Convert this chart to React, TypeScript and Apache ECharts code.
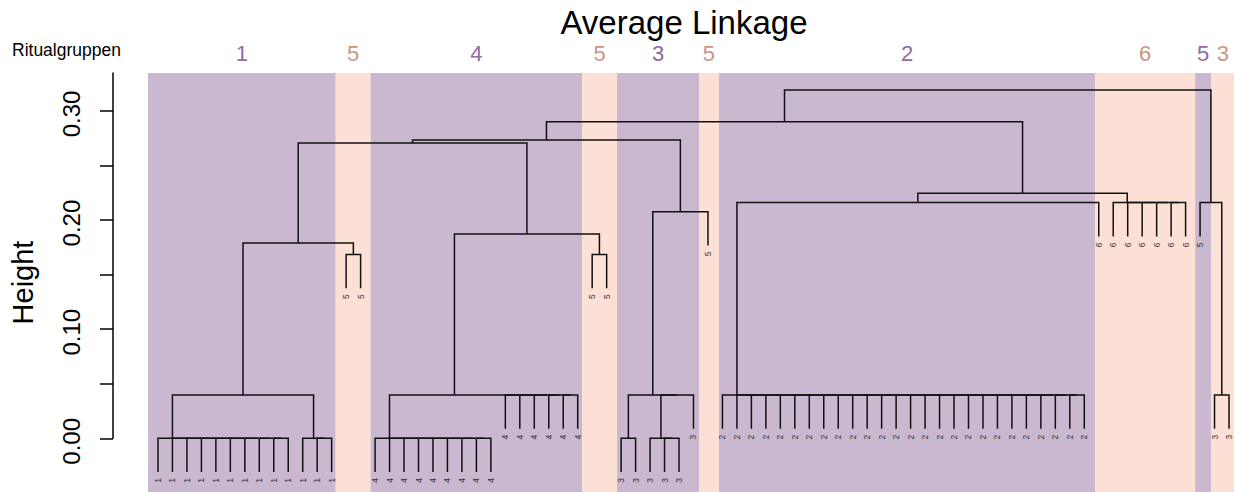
import React, { useEffect, useRef } from "react";
import * as echarts from "echarts";

const FONT = "'Liberation Sans', Arial, Helvetica, sans-serif";

// Leaf labels (Ritualgruppe of each leaf, left to right)
const leafLabels = [
  "1","1","1","1","1","1","1","1","1","1","1","1","1",
  "5","5",
  "4","4","4","4","4","4","4","4","4","4","4","4","4","4","4",
  "5","5",
  "3","3","3","3","3","3",
  "5",
  "2","2","2","2","2","2","2","2","2","2","2","2","2","2","2","2","2","2","2","2","2","2","2","2","2","2",
  "6","6","6","6","6","6","6",
  "5",
  "3","3",
];

// hclust-style merges: negative = leaf (1-based), positive = earlier merge (1-based)
const mergeLeft = [
  -9, -8, -7, -6, -5, -4, -3, -2, -1,
  -12, -11, 9, -14, 12,
  -23, -22, -21, -20, -19, -18, -17, -16,
  -29, -28, -27, -26, -25, 22, -31, 28, 14,
  -33, -36, -35, 34, 32, 36, 31,
  -64, -63, -62, -61, -60, -59, -58, -57, -56, -55, -54, -53, -52, -51, -50, -49, -48, -47, -46, -45, -44, -43, -42, -41, -40,
  63, -71, -70, -69, -68, -67, 64, 38, -74, -73, 71,
];
const mergeRight = [
  -10, 1, 2, 3, 4, 5, 6, 7, 8,
  -13, 10, 11, -15, 13,
  -24, 15, 16, 17, 18, 19, 20, 21,
  -30, 23, 24, 25, 26, 27, -32, 29, 30,
  -34, -37, 33, -38, 35, -39, 37,
  -65, 39, 40, 41, 42, 43, 44, 45, 46, 47, 48, 49, 50, 51, 52, 53, 54, 55, 56, 57, 58, 59, 60, 61, 62,
  -66, -72, 65, 66, 67, 68, 69, 70, -75, 72, 73,
];
const mergeHeight = [
  0, 0, 0, 0, 0, 0, 0, 0, 0,
  0, 0, 0.0397, 0.1685, 0.179,
  0, 0, 0, 0, 0, 0, 0, 0,
  0.0397, 0.0397, 0.0397, 0.0397, 0.0397, 0.0397, 0.1685, 0.1873, 0.2707,
  0, 0, 0, 0.0397, 0.0397, 0.2077, 0.2734,
  0.0397, 0.0397, 0.0397, 0.0397, 0.0397, 0.0397, 0.0397, 0.0397, 0.0397, 0.0397, 0.0397, 0.0397, 0.0397,
  0.0397, 0.0397, 0.0397, 0.0397, 0.0397, 0.0397, 0.0397, 0.0397, 0.0397, 0.0397, 0.0397, 0.0397,
  0.216, 0.216, 0.216, 0.216, 0.216, 0.216, 0.2246, 0.29, 0.0397, 0.216, 0.3192,
];
const hang = 0.031;

// Coloured group bands (in leaf-position units)
const bandGroups = ["1", "5", "4", "5", "3", "5", "2", "6", "5", "3"];
const bandStart = [0.31, 13.28, 15.69, 30.31, 32.72, 38.38, 39.76, 65.76, 72.66, 73.76];
const bandEnd = [13.28, 15.69, 30.31, 32.72, 38.38, 39.76, 65.76, 72.66, 73.76, 75.4];
const bandTone = [0, 1, 0, 1, 0, 1, 0, 1, 0, 1];
const bandFill = ["#C9B8CF", "#FCE0D6"];
const bandLabelColor = ["#8D6CA3", "#CB9586"];

const yTickValues = [0, 0.05, 0.1, 0.15, 0.2, 0.25, 0.3];
const yLabelValues = [0, 0.1, 0.2, 0.3];

function buildDendro() {
  const nodeX: number[] = [];
  const parentH: number[] = new Array(leafLabels.length + 1).fill(0);
  const cx = (c: number) => (c < 0 ? -c : nodeX[c - 1]);
  const segs: number[][] = [];
  for (let k = 0; k < mergeLeft.length; k++) {
    const L = mergeLeft[k];
    const R = mergeRight[k];
    const h = mergeHeight[k];
    const xl = cx(L);
    const xr = cx(R);
    nodeX[k] = (xl + xr) / 2;
    const hl = L < 0 ? h - hang : mergeHeight[L - 1];
    const hr = R < 0 ? h - hang : mergeHeight[R - 1];
    if (L < 0) parentH[-L] = h;
    if (R < 0) parentH[-R] = h;
    segs.push([xl, xr, h, hl, hr]);
  }
  const leaves = leafLabels.map((_, i) => [i + 1, parentH[i + 1] - hang]);
  return { segs, leaves };
}

export default function App() {
  const ref = useRef<HTMLDivElement>(null);
  useEffect(() => {
    if (!ref.current) return;
    const chart = echarts.init(ref.current, undefined, { renderer: "svg" });
    const { segs, leaves } = buildDendro();
    const bandData = bandStart.map((s, i) => [s, bandEnd[i]]);

    chart.setOption({
      animation: false,
      backgroundColor: "#ffffff",
      textStyle: { fontFamily: FONT },
      grid: [
        { left: 146, top: 73, right: 0, bottom: 0 },
        { left: 113, top: 73, width: 10, height: 365.3 },
      ],
      xAxis: [
        { gridIndex: 0, type: "value", min: 0.3103, max: 75.345, show: false },
        { gridIndex: 1, type: "value", min: 0, max: 1, show: false },
      ],
      yAxis: [
        {
          gridIndex: 0,
          type: "value",
          min: -0.0493,
          max: 0.3348,
          name: "Height",
          nameLocation: "middle",
          nameRotate: 90,
          nameGap: 111,
          nameTextStyle: { fontSize: 29, color: "#000", fontFamily: FONT },
          axisLine: { show: false },
          axisTick: { show: false },
          axisLabel: { show: false },
          splitLine: { show: false },
        },
        {
          gridIndex: 1,
          type: "value",
          min: 0,
          max: 0.3348,
          axisLine: { show: true, lineStyle: { color: "#000", width: 1.5 } },
          axisTick: {
            show: true,
            length: 13,
            customValues: yTickValues,
            lineStyle: { color: "#000", width: 1.5 },
          },
          axisLabel: {
            show: true,
            customValues: yLabelValues,
            formatter: (v: number) => v.toFixed(2),
            rotate: 90,
            fontSize: 24,
            color: "#000",
            margin: 30,
            padding: [0, 6, 0, 0],
            fontFamily: FONT,
          },
          splitLine: { show: false },
        },
      ],
      graphic: [
        {
          type: "text",
          x: 684,
          y: 22,
          style: {
            text: "Average Linkage",
            fontSize: 33,
            fontFamily: FONT,
            fill: "#000",
            align: "center",
            verticalAlign: "middle",
          },
        },
        {
          type: "text",
          x: 12,
          y: 50,
          style: {
            text: "Ritualgruppen",
            fontSize: 17.5,
            fontFamily: FONT,
            fill: "#000",
            align: "left",
            verticalAlign: "middle",
          },
        },
      ],
      series: [
        {
          type: "custom",
          xAxisIndex: 0,
          yAxisIndex: 0,
          z: 1,
          clip: false,
          data: bandData,
          renderItem: (params: any, api: any) => {
            const i = params.dataIndex;
            const s = api.coord([api.value(0), 0])[0];
            const e = api.coord([api.value(1), 0])[0];
            const cs = params.coordSys;
            return {
              type: "group",
              children: [
                {
                  type: "rect",
                  shape: { x: s, y: cs.y, width: e - s, height: cs.height },
                  style: { fill: bandFill[bandTone[i]] },
                },
                {
                  type: "text",
                  x: (s + e) / 2,
                  y: cs.y - 20,
                  style: {
                    text: bandGroups[i],
                    fontSize: 22,
                    fontFamily: FONT,
                    fill: bandLabelColor[bandTone[i]],
                    align: "center",
                    verticalAlign: "middle",
                  },
                },
              ],
            };
          },
        },
        {
          type: "custom",
          xAxisIndex: 0,
          yAxisIndex: 0,
          z: 2,
          clip: false,
          data: segs,
          renderItem: (_params: any, api: any) => {
            const xl = api.value(0);
            const xr = api.value(1);
            const h = api.value(2);
            const hl = api.value(3);
            const hr = api.value(4);
            const pts = [
              api.coord([xl, hl]),
              api.coord([xl, h]),
              api.coord([xr, h]),
              api.coord([xr, hr]),
            ];
            return {
              type: "polyline",
              shape: { points: pts },
              style: { stroke: "#111", lineWidth: 1.5, fill: null },
            };
          },
        },
        {
          type: "custom",
          xAxisIndex: 0,
          yAxisIndex: 0,
          z: 3,
          clip: false,
          data: leaves,
          renderItem: (params: any, api: any) => {
            const p = api.coord([api.value(0), api.value(1)]);
            return {
              type: "text",
              x: p[0],
              y: p[1] + 6,
              rotation: Math.PI / 2,
              style: {
                text: leafLabels[params.dataIndex],
                fontSize: 8.5,
                fontFamily: FONT,
                fill: "#333",
                align: "right",
                verticalAlign: "middle",
              },
            };
          },
        },
      ],
    });
    return () => chart.dispose();
  }, []);

  return (
    <div
      ref={ref}
      style={{ position: "fixed", left: 0, top: 0, width: 1234, height: 492, background: "#fff" }}
    />
  );
}
